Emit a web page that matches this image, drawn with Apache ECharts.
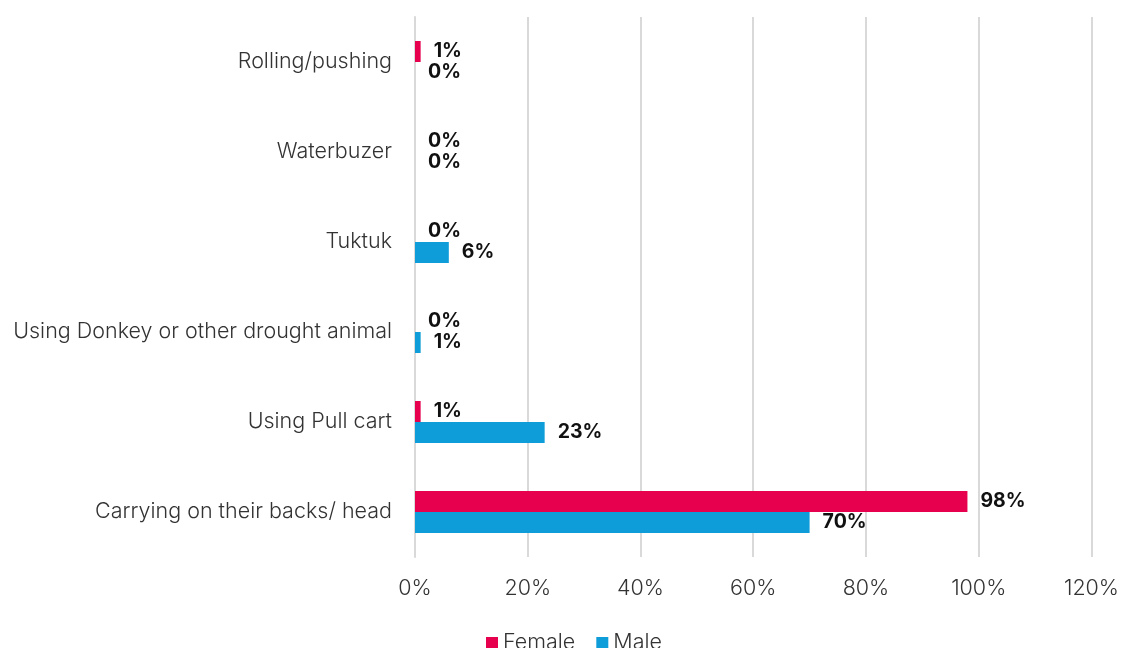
<!DOCTYPE html>
<html>
<head>
<meta charset="utf-8">
<script src="https://cdn.jsdelivr.net/npm/echarts@6/dist/echarts.min.js"></script>
<style>
  html, body { margin: 0; padding: 0; background: #fff; }
  #chart { width: 1122px; height: 648px; }
</style>
</head>
<body>
<div id="chart"></div>
<script>
// Means of transporting water, by gender (share of respondents, %)
const categories = [
  'Rolling/pushing',
  'Waterbuzer',
  'Tuktuk',
  'Using Donkey or other drought animal',
  'Using Pull cart',
  'Carrying on their backs/ head'
];
const female = [1, 0, 0, 0, 1, 98];
const male = [0, 0, 6, 1, 23, 70];
const axisTicks = [0, 20, 40, 60, 80, 100, 120];

const FONT = 'Inter';
const chart = echarts.init(document.getElementById('chart'));

const labelStyle = {
  show: true,
  position: 'right',
  distance: 13,
  formatter: p => p.value + '%',
  fontFamily: FONT,
  fontWeight: 'bold',
  fontSize: 19.5,
  color: '#111'
};

chart.setOption({
  animation: false,
  textStyle: { fontFamily: FONT },
  grid: { left: 415, right: 30, top: 17, bottom: 91 },
  legend: {
    bottom: -6,
    left: 486,
    padding: 0,
    itemWidth: 12,
    itemHeight: 12,
    itemGap: 21,
    icon: 'rect',
    textStyle: { fontFamily: FONT, fontSize: 21.5, fontWeight: 300, color: '#333' },
    data: ['Female', 'Male']
  },
  xAxis: {
    type: 'value',
    min: axisTicks[0],
    max: axisTicks[axisTicks.length - 1],
    interval: axisTicks[1] - axisTicks[0],
    axisLine: { show: false },
    axisTick: { show: false },
    splitLine: { lineStyle: { color: '#d9d9d9', width: 2 } },
    axisLabel: {
      formatter: v => v + '%',
      fontFamily: FONT,
      fontSize: 21.5,
      fontWeight: 300,
      color: '#333',
      margin: 21
    }
  },
  yAxis: {
    type: 'category',
    inverse: true,
    data: categories,
    axisLine: { show: true, lineStyle: { color: '#d9d9d9', width: 2 } },
    axisTick: { show: false },
    axisLabel: {
      fontFamily: FONT,
      fontSize: 21.5,
      fontWeight: 300,
      color: '#333',
      margin: 23
    }
  },
  series: [
    {
      name: 'Female',
      type: 'bar',
      data: female,
      barWidth: 21,
      barGap: '0%',
      itemStyle: { color: '#e6004e' },
      label: labelStyle
    },
    {
      name: 'Male',
      type: 'bar',
      data: male,
      barWidth: 21,
      barGap: '0%',
      itemStyle: { color: '#0e9dd8' },
      label: labelStyle
    }
  ]
});
</script>
</body>
</html>
